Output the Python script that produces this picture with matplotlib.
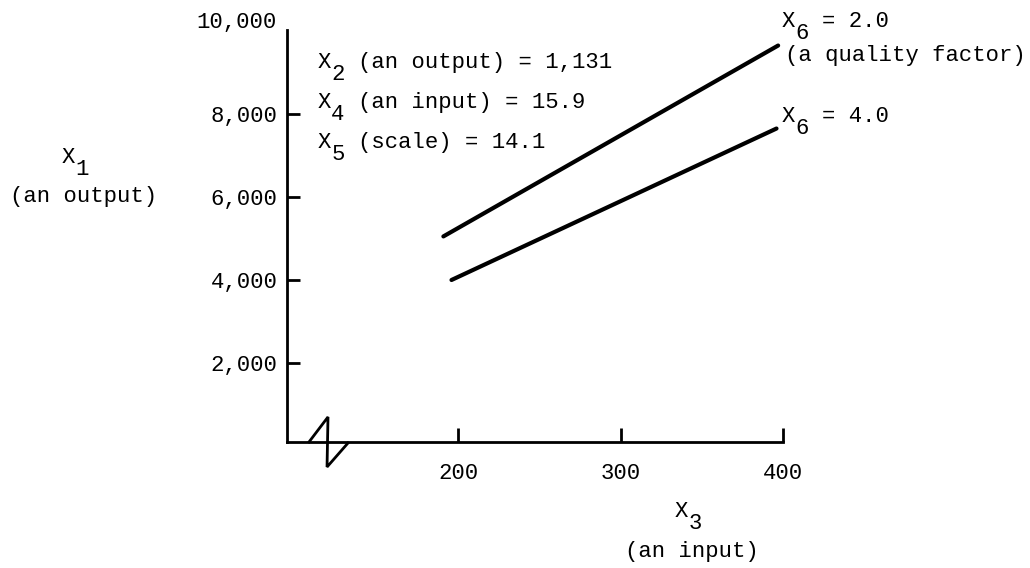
import matplotlib
matplotlib.use("Agg")
import matplotlib.pyplot as plt
from matplotlib.ticker import FuncFormatter
from matplotlib.transforms import offset_copy

plt.rcParams["font.family"] = ["Liberation Mono", "DejaVu Sans Mono"]
plt.rcParams["font.size"] = 16

# 読み取った値
x3_ticks = [200, 300, 400]
x1_ticks = [2000, 4000, 6000, 8000]
x1_top = 10000

# X6 = 2.0 と X6 = 4.0 の直線（両端）
x3_q2 = [191, 397]
x1_q2 = [5050, 9650]
x3_q4 = [196, 396]
x1_q4 = [4000, 7650]

params = [("2", "(an output) = 1,131"),
          ("4", "(an input) = 15.9"),
          ("5", "(scale) = 14.1")]

fig = plt.figure(figsize=(10.30, 5.68), dpi=100)
ax = fig.add_axes([0, 0, 1, 1])
ax.set_xlim(-81.85, 552)
ax.set_ylim(-2940, 10747)

ax.plot(x3_q2, x1_q2, color="black", lw=3, solid_capstyle="round")
ax.plot(x3_q4, x1_q4, color="black", lw=3, solid_capstyle="round")

for s in ["top", "right"]:
    ax.spines[s].set_visible(False)
ax.spines["left"].set_position(("data", 95))
ax.spines["left"].set_bounds(96, 10030)
ax.spines["bottom"].set_position(("data", 96))
ax.spines["bottom"].set_bounds(95, 400)
ax.spines["left"].set_linewidth(2)
ax.spines["bottom"].set_linewidth(2)

ax.set_xticks(x3_ticks)
ax.set_yticks(x1_ticks)
ax.yaxis.set_major_formatter(FuncFormatter(lambda v, p: f"{v:,.0f}"))
ax.tick_params(axis="y", direction="in", length=9, width=2, pad=7)
ax.tick_params(axis="x", direction="in", length=10, width=2, pad=15)

ax.text(88.6, 10072, f"{x1_top:,}", ha="right", va="baseline")

# 軸の省略記号
bx = 120
ax.plot([bx - 11.7, bx, bx - 0.6, bx + 12.3], [96, 700, -506, 72],
        color="black", lw=2, solid_joinstyle="miter")

col = 16 * 0.6 * 100 / 72   # 1文字の幅（px）

def subtext(x, y, main, digit):
    # X, 下付き数字, 残りの文字列を別々に置く（等幅フォント前提）
    ax.text(x, y, "X", ha="left", va="baseline")
    tsub = offset_copy(ax.transData, fig=fig, x=col, y=-12, units="dots")
    ax.text(x, y, digit, ha="left", va="baseline", transform=tsub)
    if main:
        trest = offset_copy(ax.transData, fig=fig, x=3 * col, y=0, units="dots")
        ax.text(x, y, main, ha="left", va="baseline", transform=trest)

for (d, t), y in zip(params, [9108, 8145, 7181]):
    subtext(113.8, y, t, d)

subtext(399.4, 10096, "= 2.0", "6")
ax.text(401.2, 9277, "(a quality factor)", ha="left", va="baseline")
subtext(399.4, 7807, "= 4.0", "6")

# 軸ラベル
subtext(-43.7, 6819, "", "1")
ax.text(-75.7, 5880, "(an output)", ha="left", va="baseline")
subtext(333.5, -1711, "", "3")
ax.text(302.8, -2675, "(an input)", ha="left", va="baseline")

fig.savefig("out.png", dpi=100)
